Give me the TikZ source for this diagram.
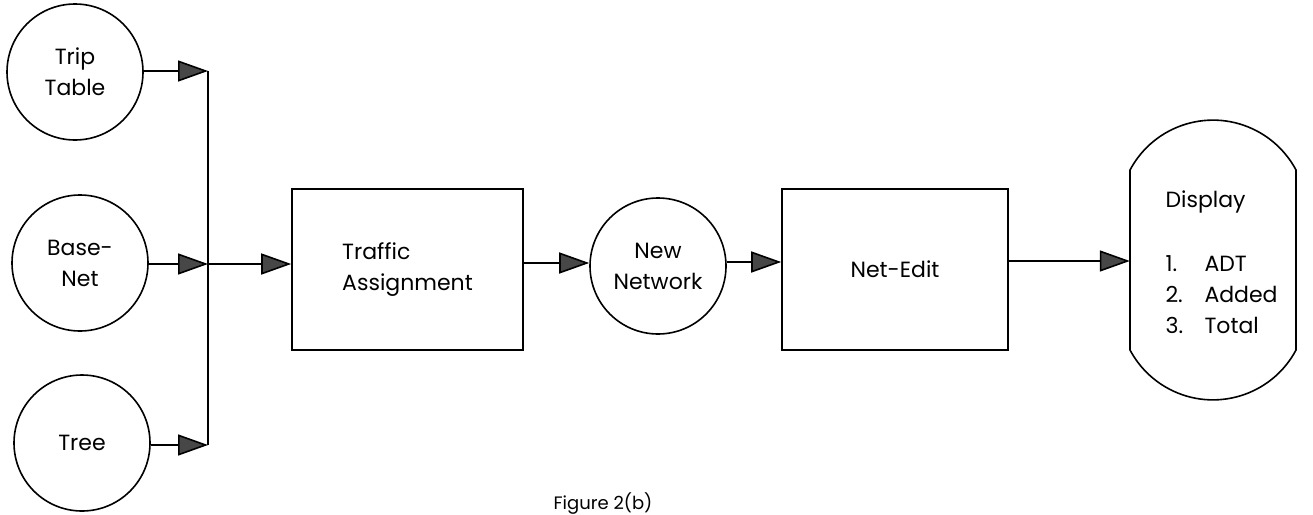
\documentclass[tikz,border=0pt]{standalone}
\usepackage{fontspec}
\setmainfont{Poppins}
\usetikzlibrary{arrows.meta}
\begin{document}
\begin{tikzpicture}[x=1pt,y=-1pt,
  every node/.style={font=\fontsize{22}{31}\selectfont},
  circ/.style={draw,circle,line width=1.6pt,minimum size=136pt,inner sep=0pt,align=center},
  boxn/.style={draw,rectangle,line width=1.6pt,inner sep=0pt,align=left},
  conn/.style={line width=1.6pt},
  arr/.style={line width=1.6pt,-{Triangle[length=30pt,width=21pt,fill=black!72]}}
]
\useasboundingbox (0,0) rectangle (1313,514);
% input circles
\node[circ] (trip) at (75,72) {Trip\\Table};
\node[circ] (base) at (80,263) {Base-\\Net};
\node[circ] (tree) at (82,443) {Tree};
% bus
\coordinate (j1) at (208,71);
\coordinate (j2) at (208,264);
\coordinate (j3) at (208,445);
\draw[conn] (j1) -- (j3);
\draw[arr] (trip.east |- j1) -- (j1);
\draw[arr] (base.east |- j2) -- (j2);
\draw[arr] (tree.east |- j3) -- (j3);
% traffic assignment
\node[boxn,minimum width=231pt,minimum height=161pt] (ta) at (407.5,269.5) {Traffic\\Assignment};
\draw[arr] (j2) -- (j2 -| ta.west);
% new network
\node[circ] (nn) at (658,266) {New\\Network};
\draw[arr] (ta.east |- 0,263) -- (nn.west |- 0,263);
% net-edit
\node[boxn,minimum width=226pt,minimum height=161pt] (ne) at (895,269.5) {Net-Edit};
\draw[arr] (nn.east |- 0,262) -- (ne.west |- 0,262);
% display
\node[minimum width=166pt,minimum height=282pt,inner sep=0pt] (disp) at (1213,261) {};
\draw[line width=1.6pt] (1130,170) arc[start angle=152,end angle=28,radius=94pt] -- (1296,350)
  arc[start angle=-28,end angle=-152,radius=94pt] -- cycle;
\node[align=left,anchor=west] (dtext) at (1162,262) {Display\\[2pt]\\\makebox[39pt][l]{1.}ADT\\\makebox[39pt][l]{2.}Added\\\makebox[39pt][l]{3.}Total};
\draw[arr] (ne.east |- disp.west) -- (disp.west);
% caption
\node[font=\fontsize{18}{22}\selectfont] (cap) at (603,504) {Figure 2(b)};
\end{tikzpicture}
\end{document}
